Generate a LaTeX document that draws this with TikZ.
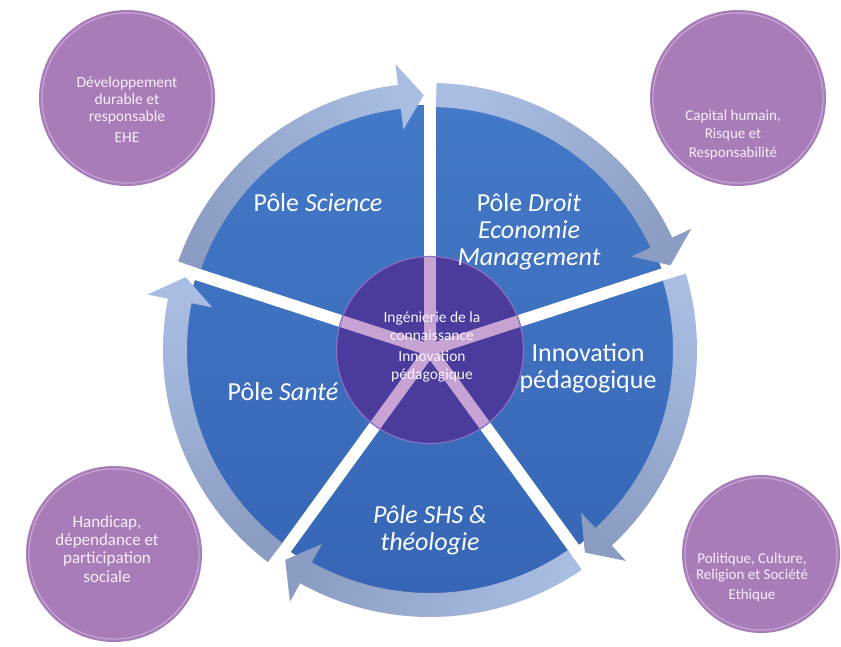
\documentclass[tikz,border=0pt]{standalone}
\usepackage{fontspec}
\setmainfont{Carlito}
\usetikzlibrary{shapes.geometric}
\definecolor{secbluetop}{HTML}{4479C8}
\definecolor{secbluebot}{HTML}{3666B5}
\definecolor{bandlight}{HTML}{A9BDE3}
\definecolor{bandgrey}{HTML}{8C9DC3}
\definecolor{coredark}{HTML}{4A3B9D}
\definecolor{corepink}{HTML}{C7A3D4}
\definecolor{corerim}{HTML}{8A72C6}
\definecolor{lilac}{HTML}{A87CB9}
\definecolor{lilacrim}{HTML}{CDAFDA}
\definecolor{lilactext}{HTML}{F6EFF8}
\newcommand{\rsArrow}[3]{%
  \pgfmathsetmacro{\rshb}{#2+5.5}%
  \path[top color=bandlight, bottom color=bandgrey, shading angle=#3]
    (#1:243) arc[start angle=#1, end angle=\rshb, radius=243pt]
    -- (\rshb:222) -- (#2:255) -- (\rshb:288) -- (\rshb:267)
    arc[start angle=\rshb, end angle=#1, radius=267pt] -- cycle;}
\begin{document}
\begin{tikzpicture}[x=1pt,y=1pt,
  sectext/.style={text=white, align=center, font=\fontsize{26}{27}\selectfont, inner sep=0pt},
  coretext/.style={text=white!90!corepink, align=center, font=\fontsize{15.5}{17.5}\selectfont, inner sep=0pt},
  lilactxt/.style={text=lilactext, align=center, inner sep=0pt},
  lilacdisc/.style={circle, fill=lilac, inner sep=0pt},
  spoke/.style={line width=12pt}]
\useasboundingbox (0,0) rectangle (841,646);
\fill[white] (0,0) rectangle (841,646);

% corner discs
\node[lilacdisc, minimum size=176pt] (dtl) at (127,548) {};
\node[lilacdisc, minimum size=176pt] (dtr) at (738,548) {};
\node[lilacdisc, minimum size=176pt] (dbl) at (114,92) {};
\node[lilacdisc, minimum size=158pt] (dbr) at (761,92) {};
\foreach \d/\r in {dtl/85, dtr/85, dbl/85, dbr/76}
  \draw[lilacrim, line width=1.2pt, opacity=0.8] (\d.center) circle (\r);

\coordinate (O) at (430,296);
\begin{scope}[shift={(O)}]
  % blue sectors
  \fill[top color=secbluetop, bottom color=secbluebot] (0,0) circle (245);
  \foreach \a in {90,18,-54,-126,162}
    \draw[white, spoke] (0,0) -- (\a:250);
  % arrows
  \rsArrow{160.6}{91.4}{-70}
  \rsArrow{88.6}{19.4}{55}
  \rsArrow{16.6}{-52.6}{-19}
  \rsArrow{-55.4}{-124.6}{-110}
  \rsArrow{232.6}{163.4}{18}
  % core
  \fill[coredark] (0,0) circle (94);
  \begin{scope}
    \clip (0,0) circle (94);
    \foreach \a in {90,18,-54,-126,162}
      \draw[corepink, spoke] (0,0) -- (\a:100);
  \end{scope}
  \draw[corerim, line width=1.2pt] (0,0) circle (93.5);
\end{scope}

% sector labels
\node[sectext] (tsci) at (318,443) {Pôle \textit{Science}};
\node[sectext] (tdroit) at (529,414) {Pôle \textit{Droit}\\\textit{Economie}\\\textit{Management}};
\node[sectext] (tinno) at (588,278) {Innovation\\pédagogique};
\node[sectext] (tsante) at (283,254) {Pôle \textit{Santé}};
\node[sectext] (tshs) at (430,116) {\textit{Pôle SHS \&}\\\textit{théologie}};
\node[coretext] (tcore) at (432,299) {Ingénierie de la\\connaissance\\[4pt]Innovation\\pédagogique};

% corner texts
\node[lilactxt, font=\fontsize{15.5}{16.7}\selectfont] (ttl) at (127,536) {Développement\\durable et\\responsable\\[5pt]EHE};
\node[lilactxt, font=\fontsize{15}{18.3}\selectfont] (ttr) at (733,511) {Capital humain,\\Risque et\\Responsabilité};
\node[lilactxt, font=\fontsize{17}{18.3}\selectfont] (tbl) at (107,97) {Handicap,\\dépendance et\\participation\\sociale};
\node[lilactxt, font=\fontsize{15}{16.5}\selectfont] (tbr) at (752,69) {Politique, Culture,\\Religion et Société\\[3pt]Ethique};
\end{tikzpicture}
\end{document}
